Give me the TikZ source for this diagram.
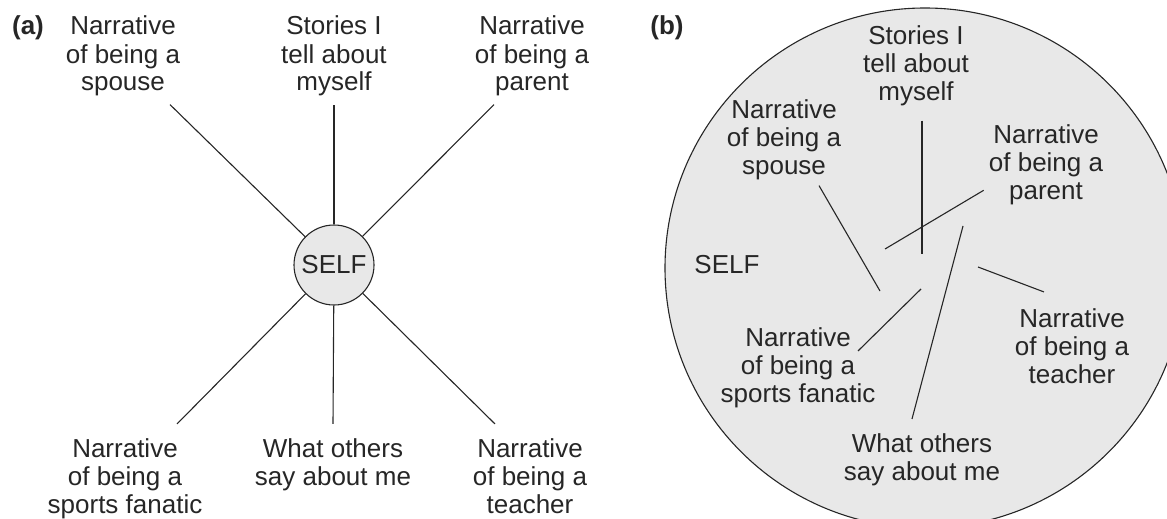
\documentclass[tikz,border=0pt]{standalone}
\usepackage{fontspec}
\setmainfont{Liberation Sans}
\usetikzlibrary{positioning}

\definecolor{selfgray}{gray}{0.91}
\definecolor{inkgray}{gray}{0.15}

\begin{document}
\begin{tikzpicture}[x=1pt, y=-1pt,
  every node/.style={font=\fontsize{26}{28}\selectfont, text=inkgray},
  narr/.style={align=center, inner sep=8pt, anchor=base},
  tag/.style={font=\fontsize{26}{28}\selectfont\bfseries, anchor=base},
  spoke/.style={draw=inkgray, line width=1.1pt}]
  \useasboundingbox (0,0) rectangle (1167,519);

  % (a) self with its stories round it
  \node[tag] (tag-a) at (28,35) {(a)};
  \node[circle, draw=inkgray, fill=selfgray, line width=1.1pt,
    minimum size=80pt, inner sep=0pt] (self) at (334,265) {SELF};
  \node[narr] (spouse) at (123,91) {Narrative\\of being a\\spouse};
  \node[narr] (stories) at (334,91) {Stories I\\tell about\\myself};
  \node[narr] (parent) at (532,91) {Narrative\\of being a\\parent};
  \node[narr] (sports) at (125,513) {Narrative\\of being a\\sports fanatic};
  \node[narr] (others) at (333,485) {What others\\say about me};
  \node[narr] (teacher) at (530,513) {Narrative\\of being a\\teacher};
  \draw[spoke] (self) -- ([xshift=47pt]spouse.south);
  \draw[spoke] (self) -- (stories);
  \draw[spoke] (self) -- ([xshift=-38pt]parent.south);
  \draw[spoke] (self) -- ([xshift=52pt,yshift=6pt]sports.north);
  \draw[spoke] (self) -- ([yshift=6pt]others.north);
  \draw[spoke] (self) -- ([xshift=-35pt,yshift=6pt]teacher.north);

  % (b) the stories inside the self
  \node[tag] (tag-b) at (667,35) {(b)};
  \draw[spoke, fill=selfgray] (925,268) circle (260pt);
  \node[anchor=base] (bself) at (727,273) {SELF};
  \node[narr] (bstories) at (916,100) {Stories I\\tell about\\myself};
  \node[narr] (bspouse) at (784,174) {Narrative\\of being a\\spouse};
  \node[narr] (bparent) at (1046,199) {Narrative\\of being a\\parent};
  \node[narr] (bsports) at (798,402) {Narrative\\of being a\\sports fanatic};
  \node[narr] (bothers) at (922,480) {What others\\say about me};
  \node[narr] (bteacher) at (1072,383) {Narrative\\of being a\\teacher};
  \coordinate (bspouse-in) at (880,291);
  \coordinate (bstories-in) at (922,254);
  \coordinate (bparent-in) at (885,249);
  \coordinate (bothers-in) at (963,226);
  \coordinate (bteacher-in) at (978,267);
  \coordinate (bsports-in) at (921,289);
  \draw[spoke] ([xshift=35pt,yshift=2pt]bspouse.south) -- (bspouse-in);
  \draw[spoke] ([xshift=6pt,yshift=-7pt]bstories.south) -- (bstories-in);
  \draw[spoke] ([xshift=3pt,yshift=-26pt]bparent.west) -- (bparent-in);
  \draw[spoke] ([xshift=-10pt,yshift=6pt]bothers.north) -- (bothers-in);
  \draw[spoke] ([xshift=-28pt,yshift=8pt]bteacher.north) -- (bteacher-in);
  \draw[spoke] ([xshift=60pt,yshift=-32pt]bsports.north) -- (bsports-in);
\end{tikzpicture}
\end{document}
